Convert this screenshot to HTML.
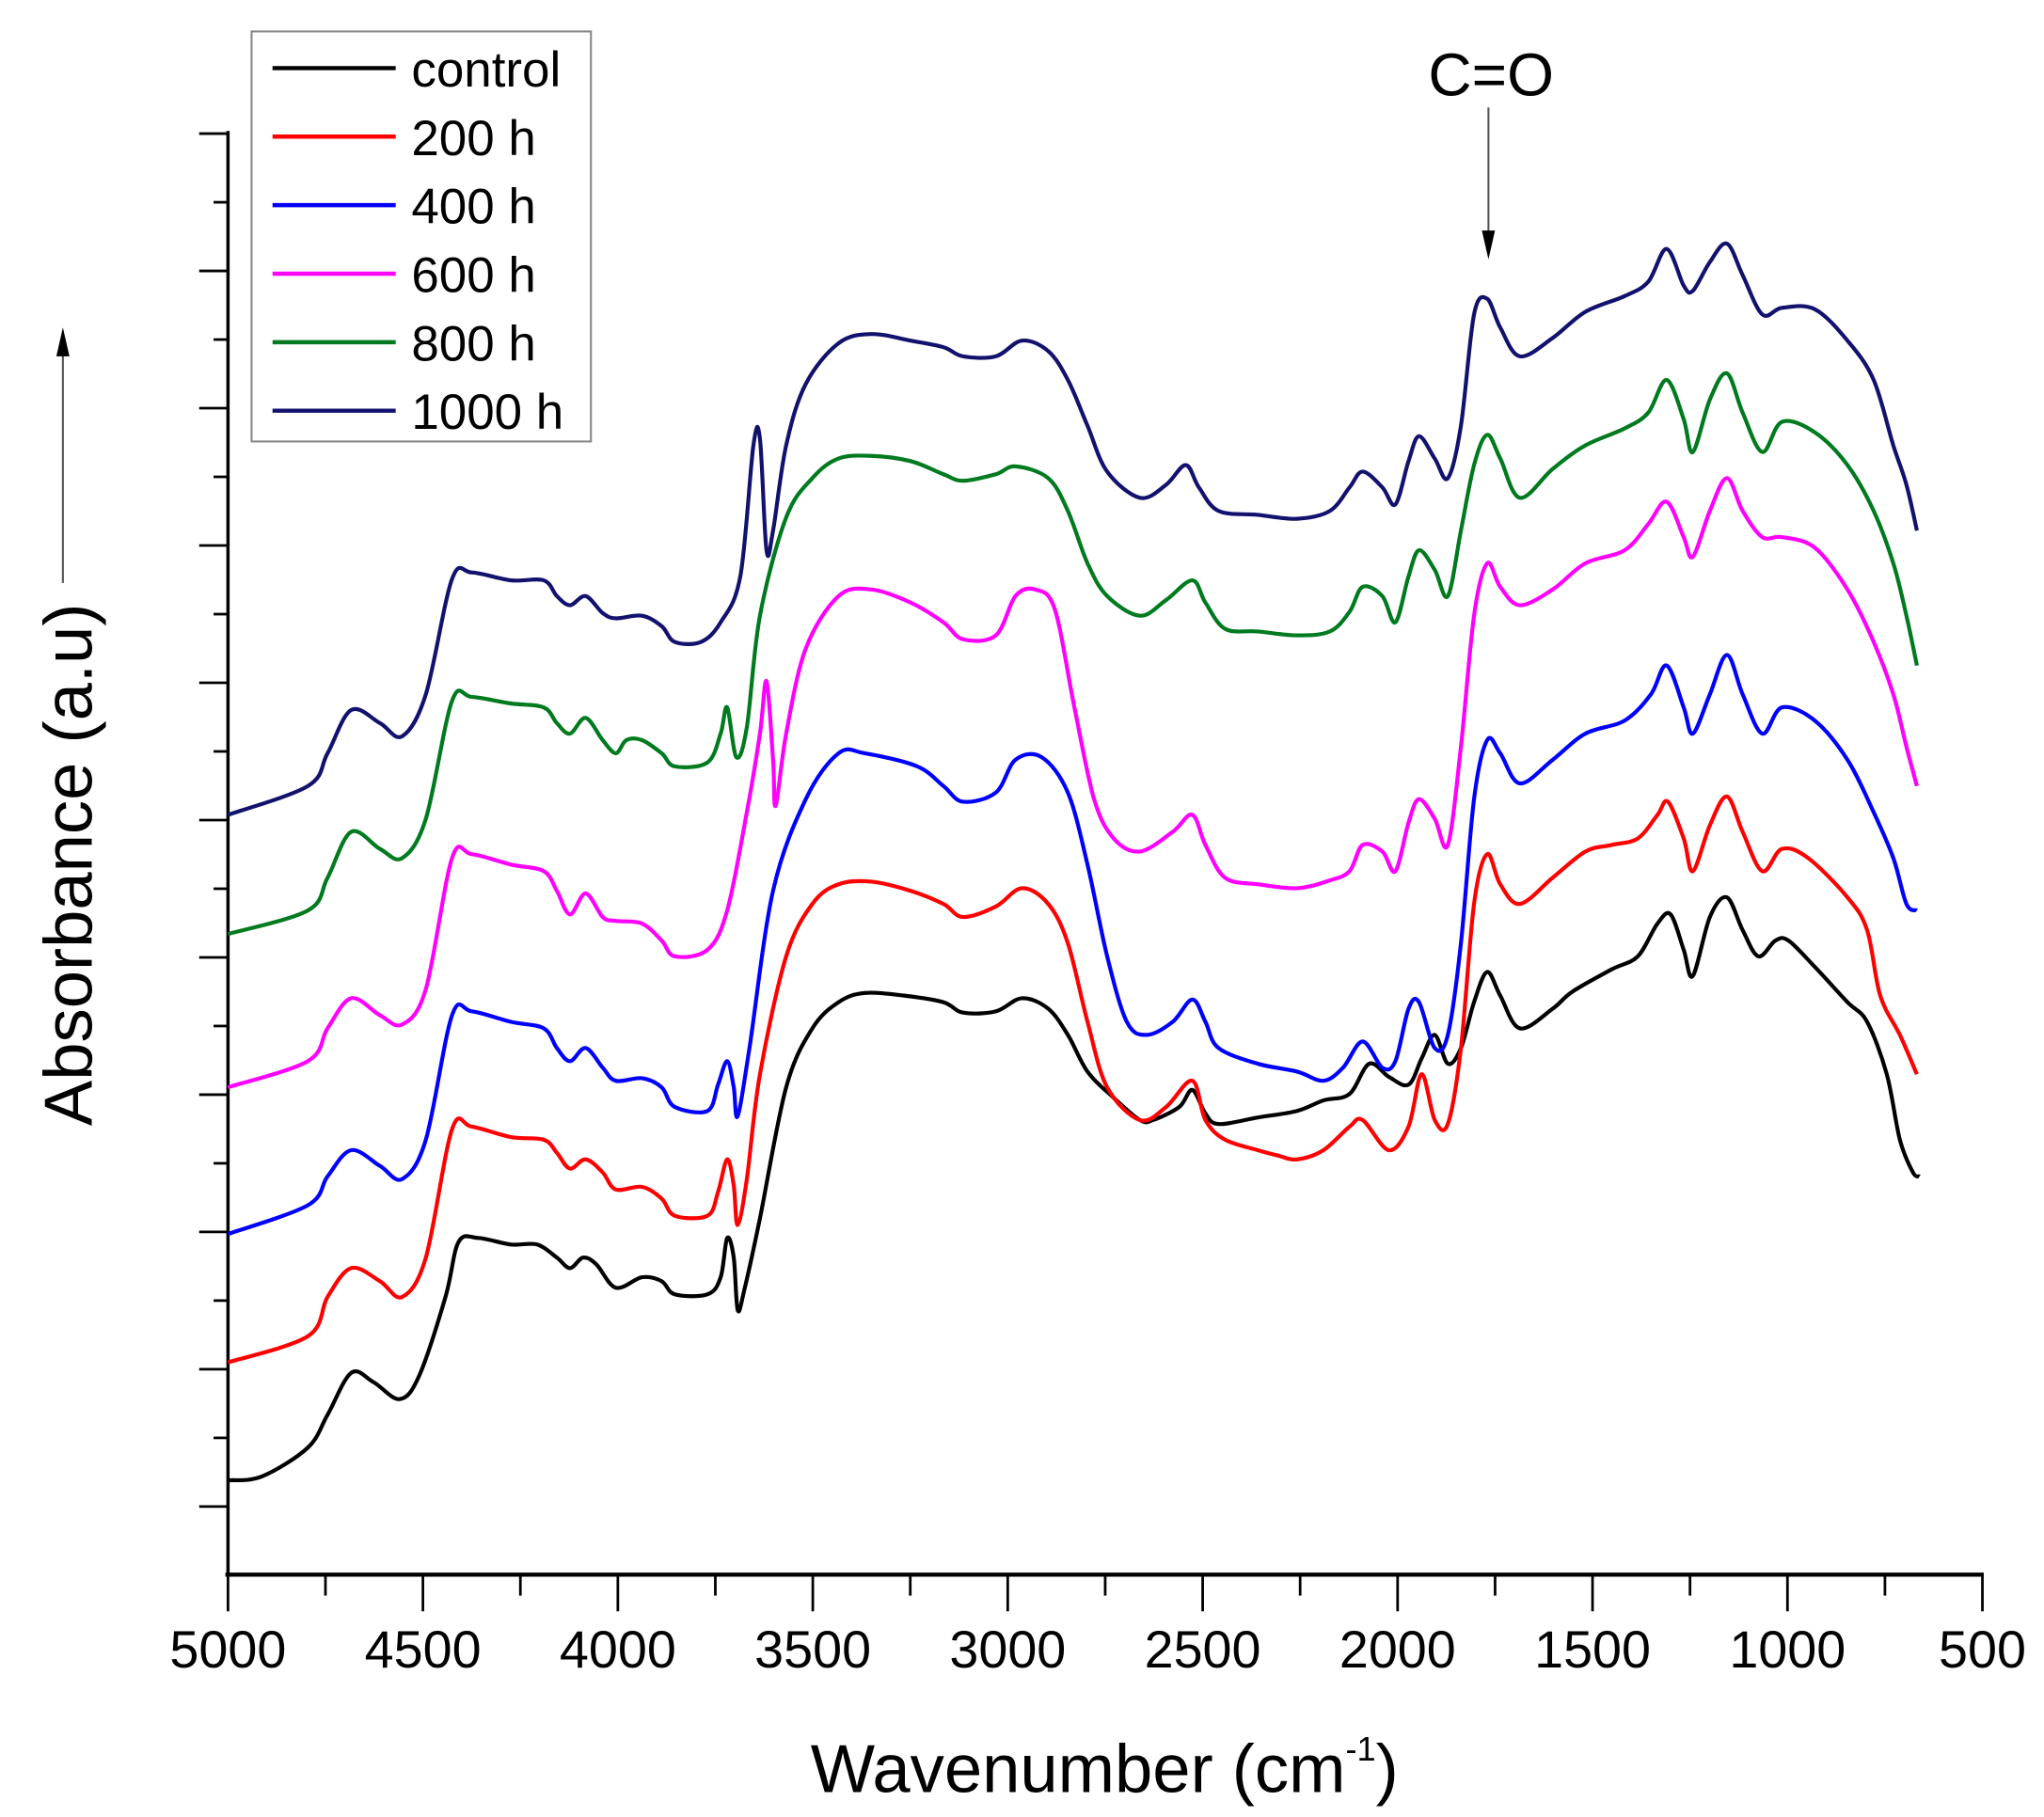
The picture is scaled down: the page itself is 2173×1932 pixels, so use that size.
<!DOCTYPE html>
<html><head><meta charset="utf-8"><style>
html,body{margin:0;padding:0;background:#fff;}
svg{display:block;}
text{font-family:"Liberation Sans",Arial,sans-serif;fill:#000;}
</style></head><body>
<svg id="s" width="2173" height="1932" viewBox="0 0 1560 1387" preserveAspectRatio="none" xmlns="http://www.w3.org/2000/svg">
<g id="axes" stroke="#000" fill="none">
<line x1="174" y1="100" x2="174" y2="1203" stroke-width="2.5"/>
<line x1="172" y1="1202" x2="1514" y2="1202" stroke-width="3.2"/>
</g>
<g id="ticks" stroke="#000" stroke-width="2"></g>
<g font-size="40" text-anchor="middle" id="xl"></g>
<text x="843" y="1368" font-size="52" text-anchor="middle">Wavenumber (cm<tspan font-size="26" dy="-24">-1</tspan><tspan dy="24">)</tspan></text>
<text transform="translate(70,660) rotate(-90)" font-size="52" text-anchor="middle">Absorbance (a.u)</text>
<line x1="48" y1="445" x2="48" y2="270" stroke="#555" stroke-width="1.5"/>
<polygon points="48,250 43,272 53,272" fill="#000"/>
<text x="1138" y="73" font-size="46" text-anchor="middle">C=O</text>
<line x1="1136" y1="82" x2="1136" y2="180" stroke="#555" stroke-width="1.5"/>
<polygon points="1136,198 1131,176 1141,176" fill="#000"/>
<rect x="192" y="24" width="259" height="313" fill="#fff" stroke="#888" stroke-width="1.5"/>
<g id="leg" font-size="38"></g>
<g id="curves" fill="none" stroke-width="3"></g>
</svg>
<script>
const NS="http://www.w3.org/2000/svg";
function el(t,a,p,txt){const e=document.createElementNS(NS,t);for(const k in a)e.setAttribute(k,a[k]);if(txt)e.textContent=txt;document.getElementById(p).appendChild(e);}
for(let i=0;i<=21;i++){const y=102+i*52.4;if(y>1200)break;const maj=i%2==0;el('line',{x1:maj?152:163,y1:y,x2:174,y2:y},'ticks');}
for(let i=0;i<=18;i++){const x=174+i*1339/18;el('line',{x1:x,y1:1202,x2:x,y2:i%2==0?1230:1218},'ticks');}
for(let i=0;i<=9;i++){el('text',{x:174+i*1339/9,y:1273},'xl',String(5000-i*500));}
const cols=["#000","#ff0000","#0000ff","#ff00ff","#007a1f","#12126e"];
const names=["control","200 h","400 h","600 h","800 h","1000 h"];
names.forEach((n,i)=>{const y=52+i*52.3;el('line',{x1:208,y1:y,x2:302,y2:y,stroke:cols[i],'stroke-width':3.2},'leg');el('text',{x:314,y:y+14},'leg',n);});
const D=[
[[174,1130],[200,1127],[235,1105],[250,1080],[268,1048],[285,1055],[305,1068],[320,1050],[340,990],[350,948],[365,945],[390,950],[410,950],[425,960],[435,968],[445,960],[455,965],[470,983],[490,975],[505,978],[515,988],[540,988],[550,975],[555,945],[560,960],[563,1000],[568,985],[580,930],[600,830],[620,785],[640,765],[660,758],[690,760],[720,765],[735,773],[760,772],[780,762],[800,770],[815,790],[830,818],[850,838],[870,855],[880,855],[900,845],[910,832],[920,850],[930,858],[960,853],[990,848],[1010,840],[1030,835],[1045,812],[1060,822],[1075,828],[1085,808],[1095,790],[1105,812],[1115,800],[1125,765],[1135,742],[1145,760],[1160,785],[1185,770],[1200,757],[1230,740],[1250,730],[1265,705],[1275,698],[1285,725],[1292,745],[1305,700],[1318,685],[1330,710],[1342,730],[1355,718],[1365,718],[1385,738],[1410,765],[1425,780],[1440,820],[1450,870],[1460,895],[1465,898]],
[[174,1040],[235,1020],[250,990],[268,968],[290,978],[307,990],[325,960],[345,862],[360,860],[390,868],[415,870],[425,880],[435,892],[447,885],[460,895],[470,908],[490,906],[505,915],[515,928],[540,928],[548,910],[555,885],[560,905],[563,935],[570,900],[580,820],[600,730],[620,690],[640,675],[665,673],[695,680],[720,690],[735,700],[760,692],[780,678],[800,690],[815,720],[830,780],[845,830],[870,855],[890,845],[910,825],[920,855],[935,870],[960,878],[975,882],[990,885],[1010,878],[1030,860],[1040,855],[1060,878],[1075,860],[1085,820],[1095,855],[1105,858],[1115,800],[1125,690],[1135,652],[1145,675],[1160,690],[1185,670],[1210,650],[1230,645],[1250,640],[1265,622],[1273,612],[1285,640],[1292,665],[1305,630],[1318,608],[1330,635],[1345,665],[1360,648],[1380,655],[1410,685],[1425,710],[1435,760],[1450,790],[1463,820]],
[[174,942],[235,920],[250,898],[268,878],[290,890],[307,900],[325,870],[345,775],[360,772],[390,780],[415,785],[425,800],[435,810],[447,800],[460,815],[470,825],[490,823],[505,830],[515,845],[540,848],[548,828],[555,810],[560,830],[563,852],[572,800],[590,680],[615,610],[640,575],[660,575],[700,585],[720,600],[735,612],[760,605],[775,580],[795,578],[815,605],[830,660],[845,730],[860,780],[875,790],[895,780],[910,763],[920,780],[930,800],[960,812],[990,818],[1010,825],[1025,815],[1040,795],[1055,815],[1065,810],[1075,770],[1083,765],[1095,800],[1105,790],[1115,720],[1125,610],[1135,565],[1145,575],[1160,598],[1185,580],[1210,560],[1240,550],[1260,530],[1272,508],[1285,540],[1292,560],[1305,530],[1318,500],[1330,530],[1345,560],[1360,540],[1385,550],[1410,580],[1430,620],[1445,655],[1455,690],[1463,695]],
[[174,830],[235,810],[250,785],[268,762],[290,775],[307,782],[325,755],[345,655],[360,652],[390,660],[415,665],[425,680],[435,698],[447,682],[460,700],[470,703],[490,705],[505,718],[515,730],[540,725],[555,695],[570,620],[580,560],[585,520],[590,580],[592,615],[600,560],[615,495],[640,455],[665,450],[695,460],[720,475],[735,488],[760,485],[775,455],[790,450],[805,465],[820,540],[835,610],[850,640],[870,650],[895,635],[910,622],[920,645],[935,670],[960,675],[990,678],[1015,672],[1030,665],[1040,645],[1055,650],[1065,665],[1075,628],[1083,610],[1095,625],[1105,645],[1115,570],[1125,470],[1135,430],[1145,448],[1160,462],[1185,450],[1210,430],[1240,420],[1258,400],[1272,383],[1285,410],[1292,425],[1305,390],[1318,365],[1330,390],[1345,410],[1360,410],[1385,418],[1410,450],[1430,490],[1445,530],[1455,570],[1463,600]],
[[174,713],[235,695],[250,670],[268,635],[290,648],[307,655],[325,625],[345,535],[360,532],[390,537],[415,540],[425,552],[435,560],[447,548],[460,565],[470,575],[478,565],[490,565],[505,575],[515,585],[540,582],[550,560],[555,540],[562,578],[570,555],[580,470],[600,395],[620,365],[640,350],[665,348],[695,352],[720,362],[735,367],[760,362],[775,356],[800,365],[815,390],[830,430],[845,455],[870,470],[890,458],[910,443],[920,460],[935,480],[960,482],[990,485],[1015,482],[1030,467],[1040,448],[1055,455],[1065,475],[1075,440],[1083,420],[1095,435],[1105,455],[1115,405],[1125,355],[1135,332],[1145,350],[1160,380],[1185,358],[1210,340],[1240,327],[1258,315],[1272,290],[1285,320],[1292,345],[1305,305],[1318,285],[1330,315],[1345,345],[1360,322],[1385,330],[1410,355],[1430,390],[1445,430],[1455,470],[1463,508]],
[[174,622],[235,600],[250,575],[268,542],[290,552],[307,562],[325,530],[345,442],[360,437],[390,443],[415,443],[425,455],[435,462],[447,455],[460,468],[470,472],[490,470],[505,478],[515,490],[535,490],[550,475],[565,440],[575,340],[580,335],[585,420],[590,405],[600,340],[615,293],[640,262],[665,255],[695,260],[720,265],[735,272],[760,272],[780,260],[800,268],[815,290],[830,325],[845,360],[870,380],[890,370],[905,355],[915,372],[930,390],[960,393],[990,396],[1015,390],[1030,372],[1040,360],[1055,372],[1065,385],[1075,352],[1083,333],[1095,350],[1105,365],[1115,325],[1125,240],[1135,228],[1145,250],[1160,272],[1185,258],[1210,238],[1240,226],[1258,215],[1272,190],[1285,218],[1292,222],[1305,200],[1318,186],[1330,210],[1345,240],[1360,235],[1385,236],[1410,260],[1430,290],[1445,340],[1455,370],[1463,405]]];
function path(p){let d="M"+p[0][0]+","+p[0][1];for(let i=0;i<p.length-1;i++){const a=p[Math.max(0,i-1)],b=p[i],c=p[i+1],e=p[Math.min(p.length-1,i+2)];const c1=[b[0]+(c[0]-a[0])/6,b[1]+(c[1]-a[1])/6],c2=[c[0]-(e[0]-b[0])/6,c[1]-(e[1]-b[1])/6];d+=`C${c1[0].toFixed(1)},${c1[1].toFixed(1)} ${c2[0].toFixed(1)},${c2[1].toFixed(1)} ${c[0]},${c[1]}`;}return d;}
D.forEach((p,i)=>el('path',{d:path(p),stroke:cols[i],'stroke-linejoin':'round'},'curves'));
</script>
</body></html>
